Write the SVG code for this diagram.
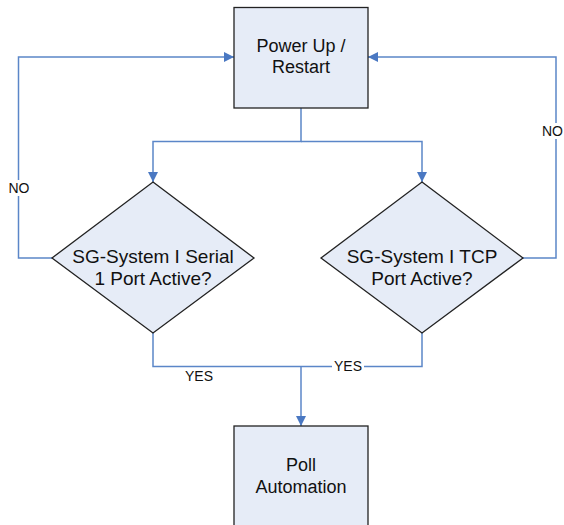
<svg xmlns="http://www.w3.org/2000/svg" width="564" height="525" viewBox="0 0 564 525">
<style>
.node{fill:#e6ecf7;stroke:#222;stroke-width:1.3}
.t{font-family:"Liberation Sans",Arial,sans-serif;font-size:18px;fill:#111;text-anchor:middle}
.td{font-family:"Liberation Sans",Arial,sans-serif;font-size:19px;fill:#111;text-anchor:middle}
.lbl{font-family:"Liberation Sans",Arial,sans-serif;font-size:14px;fill:#111;text-anchor:middle}
.c{fill:none;stroke:#5b86c8;stroke-width:1.5}
.bg{fill:#fff}
</style>
<defs>
<marker id="arr" viewBox="0 0 10 10" refX="10" refY="5" markerWidth="10" markerHeight="10" markerUnits="userSpaceOnUse" orient="auto">
<path d="M0,0 L10,5 L0,10 Z" fill="#4a78c2"/>
</marker>
</defs>
<rect width="564" height="525" fill="#fff"/>
<g id="connectors">
<path class="c" d="M301,108 V141.5 H153 V182" marker-end="url(#arr)"/>
<path class="c" d="M301,141.5 H422 V182" marker-end="url(#arr)"/>
<path class="c" d="M53,258 H18.5 V57 H234" marker-end="url(#arr)"/>
<path class="c" d="M523,258 H556 V57 H368" marker-end="url(#arr)"/>
<path class="c" d="M153,333 V366.5 H422 V333"/>
<path class="c" d="M301,366.5 V426" marker-end="url(#arr)"/>
<rect class="bg" x="8" y="180" width="22" height="16"/>
<text class="lbl" x="19" y="193">NO</text>
<rect class="bg" x="543" y="123" width="21" height="16"/>
<text class="lbl" x="563" y="136" text-anchor="end" style="text-anchor:end">NO</text>
<text class="lbl" x="199" y="381">YES</text>
<rect class="bg" x="332" y="359" width="32" height="14"/>
<text class="lbl" x="348" y="371">YES</text>
</g>
<g id="power-up">
<rect class="node" x="234" y="7.5" width="134" height="100.5"/>
<text class="t" x="301" y="52">Power Up /</text>
<text class="t" x="301" y="73">Restart</text>
</g>
<g id="serial-port">
<polygon class="node" points="153,182 254,258 153,333 52,258"/>
<text class="td" x="153" y="263">SG-System I Serial</text>
<text class="td" x="153" y="285">1 Port Active?</text>
</g>
<g id="tcp-port">
<polygon class="node" points="422,182 523,258 422,333 321,258"/>
<text class="td" x="422" y="263">SG-System I TCP</text>
<text class="td" x="422" y="285">Port Active?</text>
</g>
<g id="poll-automation">
<rect class="node" x="234" y="426" width="134" height="101"/>
<text class="t" x="301" y="471">Poll</text>
<text class="t" x="301" y="493">Automation</text>
</g>
</svg>
